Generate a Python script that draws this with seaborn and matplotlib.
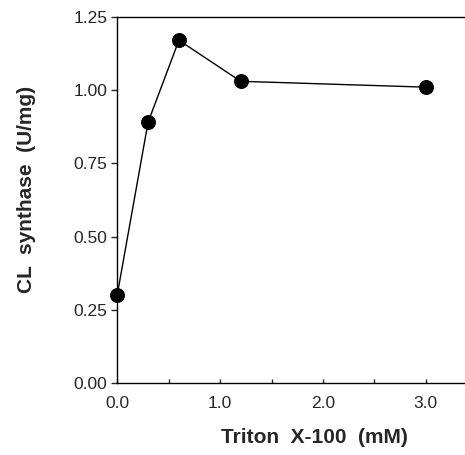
import matplotlib
matplotlib.use("Agg")
import matplotlib.pyplot as plt
import seaborn as sns
import pandas as pd
from matplotlib.ticker import MultipleLocator

triton_mM = [0.0, 0.3, 0.6, 1.2, 3.0]
cl_synthase = [0.30, 0.89, 1.17, 1.03, 1.01]
x_ticks = [0.0, 1.0, 2.0, 3.0]
x_tick_labels = ["0.0", "1.0", "2.0", "3.0"]
y_ticks = [0.0, 0.25, 0.5, 0.75, 1.0, 1.25]
y_tick_labels = ["0.00", "0.25", "0.50", "0.75", "1.00", "1.25"]

sns.set_style("ticks")
plt.rcParams["font.family"] = ["Liberation Sans", "DejaVu Sans"]

df = pd.DataFrame({"x": triton_mM, "y": cl_synthase})

fig = plt.figure(figsize=(4.65, 4.55), dpi=100)
ax = fig.add_axes([0.252, 0.158, 0.748, 0.805])
sns.lineplot(data=df, x="x", y="y", ax=ax, color="black", linewidth=1.0,
             marker="o", markersize=10, markerfacecolor="black",
             markeredgecolor="black", clip_on=False)

ax.set_xlim(0, 3.38)
ax.set_ylim(0, 1.25)
ax.set_xticks(x_ticks)
ax.set_xticklabels(x_tick_labels, fontsize=12.5)
ax.xaxis.set_minor_locator(MultipleLocator(0.5))
ax.set_yticks(y_ticks)
ax.set_yticklabels(y_tick_labels, fontsize=12.5)
ax.tick_params(axis="x", which="both", direction="in", length=3, width=1, pad=9)
ax.tick_params(axis="y", direction="out", length=4, width=1, pad=3)
ax.spines["right"].set_visible(False)
for s in ["left", "bottom", "top"]:
    ax.spines[s].set_linewidth(1.0)
    ax.spines[s].set_color("black")

ax.set_xlabel("Triton  X-100  (mM)", fontsize=15, fontweight="bold")
ax.set_ylabel("CL  synthase  (U/mg)", fontsize=15, fontweight="bold")
ax.xaxis.set_label_coords(0.566, -0.123)
ax.yaxis.set_label_coords(-0.233, 0.53)

fig.savefig("out.png", dpi=100)
